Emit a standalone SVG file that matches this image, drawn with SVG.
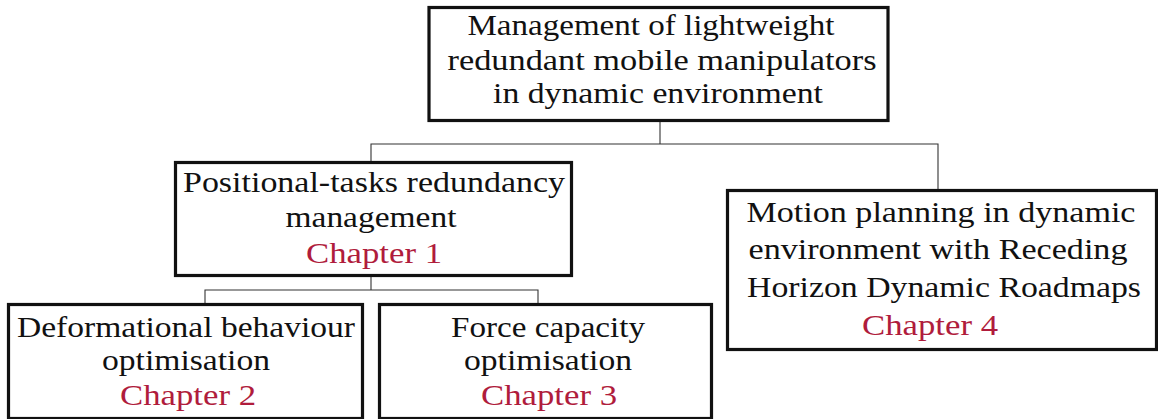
<svg xmlns="http://www.w3.org/2000/svg" width="1158" height="419" viewBox="0 0 1158 419">
<style>
.box{fill:#fff;stroke:#111;stroke-width:3.2}
.t{font-family:"Liberation Serif","DejaVu Serif",serif;font-size:30px;fill:#111;text-anchor:middle}
.ch{fill:#b01c3c}
.c{fill:none;stroke:#333;stroke-width:1.1}
</style>
<rect width="1158" height="419" fill="#fff"/>
<g id="connectors">
<polyline class="c" points="660,120 660,144"/>
<polyline class="c" points="371,162 371,144 938,144 938,190"/>
<polyline class="c" points="371,276 371,290"/>
<polyline class="c" points="205,304 205,290 538,290 538,304"/>
</g>
<g id="root">
<rect class="box" x="429" y="7.5" width="459" height="113"/>
<text class="t" x="651" y="35" textLength="367" lengthAdjust="spacingAndGlyphs">Management of lightweight</text>
<text class="t" x="662" y="70" textLength="429" lengthAdjust="spacingAndGlyphs">redundant mobile manipulators</text>
<text class="t" x="658" y="103" textLength="330" lengthAdjust="spacingAndGlyphs">in dynamic environment</text>
</g>
<g id="ch1">
<rect class="box" x="175.5" y="162.5" width="396" height="113"/>
<text class="t" x="374" y="192" textLength="382" lengthAdjust="spacingAndGlyphs">Positional-tasks redundancy</text>
<text class="t" x="371" y="227" textLength="171" lengthAdjust="spacingAndGlyphs">management</text>
<text class="t ch" x="374" y="263" textLength="136" lengthAdjust="spacingAndGlyphs">Chapter 1</text>
</g>
<g id="ch2">
<rect class="box" x="8.5" y="304.5" width="354" height="114"/>
<text class="t" x="186" y="337" textLength="338" lengthAdjust="spacingAndGlyphs">Deformational behaviour</text>
<text class="t" x="186" y="370" textLength="168" lengthAdjust="spacingAndGlyphs">optimisation</text>
<text class="t ch" x="188" y="405" textLength="136" lengthAdjust="spacingAndGlyphs">Chapter 2</text>
</g>
<g id="ch3">
<rect class="box" x="379.5" y="304.5" width="332" height="114"/>
<text class="t" x="548" y="337" textLength="194" lengthAdjust="spacingAndGlyphs">Force capacity</text>
<text class="t" x="548" y="370" textLength="168" lengthAdjust="spacingAndGlyphs">optimisation</text>
<text class="t ch" x="549" y="405" textLength="136" lengthAdjust="spacingAndGlyphs">Chapter 3</text>
</g>
<g id="ch4">
<rect class="box" x="727.5" y="190.5" width="429" height="159"/>
<text class="t" x="941" y="222" textLength="389" lengthAdjust="spacingAndGlyphs">Motion planning in dynamic</text>
<text class="t" x="938" y="259" textLength="379" lengthAdjust="spacingAndGlyphs">environment with Receding</text>
<text class="t" x="944" y="297" textLength="394" lengthAdjust="spacingAndGlyphs">Horizon Dynamic Roadmaps</text>
<text class="t ch" x="930" y="335" textLength="136" lengthAdjust="spacingAndGlyphs">Chapter 4</text>
</g>
</svg>
